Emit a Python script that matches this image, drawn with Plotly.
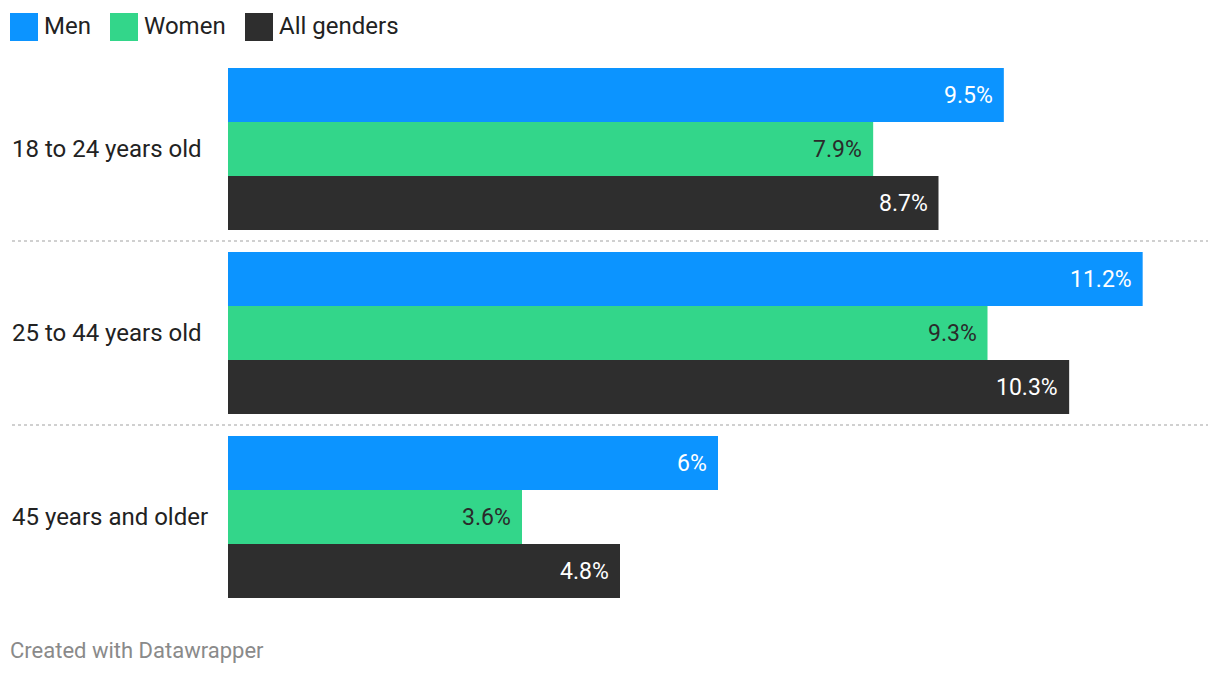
import plotly.graph_objects as go

categories = ["18 to 24 years old", "25 to 44 years old", "45 years and older"]
series_names = ["Men", "Women", "All genders"]
men = [9.5, 11.2, 6.0]
women = [7.9, 9.3, 3.6]
all_genders = [8.7, 10.3, 4.8]
value_labels = [["9.5%", "11.2%", "6%"], ["7.9%", "9.3%", "3.6%"], ["8.7%", "10.3%", "4.8%"]]

colors = ["#0c94ff", "#33d68a", "#2e2e2e"]
label_colors = ["#ffffff", "#2a2a2a", "#ffffff"]
FONT = "Roboto"
OFF = 8  # page offset of the figure
W, H = 1220 - OFF, 676 - OFF
ML, MT = 228 - OFF, 57 - OFF
MR = W - (1208 - OFF)
MB = H - (609 - OFF)
XMAX = 12.0
BARGAP = 22 / 184

fig = go.Figure()
series = [men, women, all_genders]
for name, vals, col in zip(series_names, series, colors):
    fig.add_trace(go.Bar(
        y=categories, x=vals, name=name, orientation="h",
        marker=dict(color=col, line=dict(width=0)),
        hoverinfo="skip", showlegend=False,
    ))

annotations = []
bw = (1 - BARGAP) / 3
for s, vals in enumerate(series):
    for i, v in enumerate(vals):
        annotations.append(dict(
            x=v, y=i + (s - 1) * bw, xref="x", yref="y",
            text=value_labels[s][i], showarrow=False,
            xanchor="right", yanchor="middle", xshift=-9,
            font=dict(family=FONT, size=23, color=label_colors[s]),
        ))

plot_w = W - ML - MR
plot_h = H - MT - MB
def px_to_paper_x(px):
    return (px - OFF - ML) / plot_w
def px_to_paper_y(py):
    return 1 - (py - OFF - MT) / plot_h

# category labels
for i, c in enumerate(categories):
    annotations.append(dict(
        x=px_to_paper_x(10), y=i, xref="paper", yref="y",
        text=c, showarrow=False, xanchor="left", yanchor="middle",
        font=dict(family=FONT, size=24, color="#222222"),
    ))

shapes = []
for i in range(len(categories) - 1):
    shapes.append(dict(
        type="line", xref="paper", yref="y",
        x0=px_to_paper_x(12), x1=px_to_paper_x(1208), y0=i + 0.5, y1=i + 0.5,
        line=dict(color="#d0d0d0", width=2, dash="dot"),
    ))

# legend
legend_x = [10, 110, 245]
for name, col, lx in zip(series_names, colors, legend_x):
    shapes.append(dict(
        type="rect", xref="paper", yref="paper",
        x0=px_to_paper_x(lx), x1=px_to_paper_x(lx + 28),
        y0=px_to_paper_y(41), y1=px_to_paper_y(13),
        fillcolor=col, line=dict(width=0),
    ))
    annotations.append(dict(
        x=px_to_paper_x(lx + 32), y=px_to_paper_y(26), xref="paper", yref="paper",
        text=name, showarrow=False, xanchor="left", yanchor="middle",
        font=dict(family=FONT, size=24, color="#222222"),
    ))

annotations.append(dict(
    x=px_to_paper_x(8), y=px_to_paper_y(651), xref="paper", yref="paper",
    text="Created with Datawrapper", showarrow=False, xanchor="left", yanchor="middle",
    font=dict(family=FONT, size=22, color="#8a8a8a"),
))

fig.update_layout(
    width=W, height=H,
    margin=dict(l=ML, r=MR, t=MT, b=MB, pad=0),
    barmode="group", bargap=BARGAP, bargroupgap=0,
    plot_bgcolor="white", paper_bgcolor="white",
    xaxis=dict(range=[0, XMAX], visible=False, fixedrange=True),
    yaxis=dict(autorange="reversed", showticklabels=False, showgrid=False,
               zeroline=False, showline=False, ticks=""),
    annotations=annotations, shapes=shapes,
    font=dict(family=FONT),
)

fig.write_html("out.html", config={"displayModeBar": False})
